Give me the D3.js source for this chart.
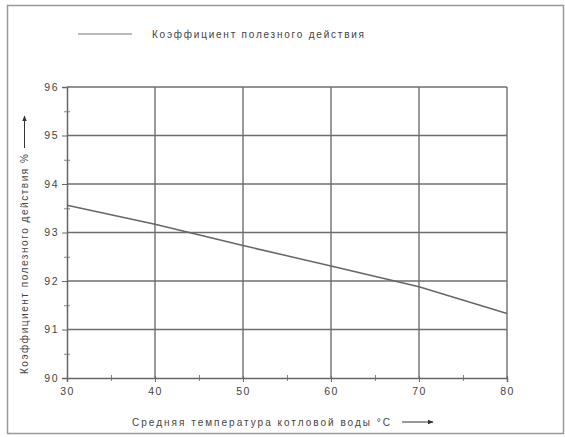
<!DOCTYPE html>
<html>
<head>
<meta charset="utf-8" />
<script src="https://cdn.jsdelivr.net/npm/d3@7"></script>
<style>
  body { margin: 0; background: #fff; }
  text { font-family: "Liberation Sans", Arial, sans-serif; fill: #444; }
</style>
</head>
<body>
<script>
    // data
    var temps = [30, 40, 50, 60, 70, 80];
    var efficiency = [93.56, 93.17, 92.73, 92.31, 91.88, 91.33];
    var xTicks = [30, 40, 50, 60, 70, 80];
    var yTicks = [90, 91, 92, 93, 94, 95, 96];
    var seriesName = "Коэффициент полезного действия";
    var xTitle = "Средняя температура котловой воды °C";
    var yTitle = "Коэффициент полезного действия %";

    var svgWidth = 565, svgHeight = 437;
    var margin = {top: 87, right: 58, bottom: 59, left: 67},
        width = svgWidth - margin.left - margin.right,
        height = svgHeight - margin.top - margin.bottom;

    var svg = d3.select("body").append("svg")
        .attr("width", svgWidth)
        .attr("height", svgHeight);

    // outer frame
    svg.append("rect")
        .attr("x", 7.5).attr("y", 5.5)
        .attr("width", 556).attr("height", 428)
        .attr("fill", "none").attr("stroke", "#999").attr("stroke-width", 1.5);

    var g = svg.append("g").attr("transform", "translate(" + margin.left + "," + margin.top + ")");

    var x = d3.scaleLinear().domain([30, 80]).range([0, width]);
    var y = d3.scaleLinear().domain([90, 96]).range([height, 0]);

    // grid
    g.selectAll(".vgrid").data(xTicks.slice(1)).enter().append("line")
        .attr("x1", function(d) { return x(d); }).attr("x2", function(d) { return x(d); })
        .attr("y1", 0).attr("y2", height)
        .attr("stroke", "#6e6e6e").attr("stroke-width", 1.4);
    g.selectAll(".hgrid").data(yTicks.slice(1)).enter().append("line")
        .attr("x1", 0).attr("x2", width)
        .attr("y1", function(d) { return y(d); }).attr("y2", function(d) { return y(d); })
        .attr("stroke", "#6e6e6e").attr("stroke-width", 1.4);

    // minor ticks
    var xMinor = d3.range(35, 80, 10);
    var yMinor = d3.range(90.5, 96, 1);
    g.append("g").attr("transform", "translate(0," + height + ")")
        .call(d3.axisBottom(x).tickValues(xMinor).tickSize(3).tickFormat(""))
        .call(function(a) { a.select(".domain").remove(); a.selectAll("line").attr("stroke", "#888").attr("y1", -3); });
    g.append("g")
        .call(d3.axisLeft(y).tickValues(yMinor).tickSize(3).tickFormat(""))
        .call(function(a) { a.select(".domain").remove(); a.selectAll("line").attr("stroke", "#888").attr("x1", 3); });

    var xAxis = g.append("g").attr("transform", "translate(0," + height + ")")
        .call(d3.axisBottom(x).tickValues(xTicks).tickSize(4).tickPadding(6).tickFormat(d3.format("d")));
    xAxis.select(".domain").attr("stroke", "#666").attr("stroke-width", 1.5);
    xAxis.selectAll("line").attr("stroke", "#666").attr("y1", -2);
    xAxis.selectAll("text").attr("font-size", 10.5).attr("letter-spacing", 1.5).style("fill", "#444");

    var yAxis = g.append("g")
        .call(d3.axisLeft(y).tickValues(yTicks).tickSize(5).tickPadding(3).tickFormat(d3.format("d")));
    yAxis.select(".domain").attr("stroke", "#666").attr("stroke-width", 1.5);
    yAxis.selectAll("line").attr("stroke", "#666");
    yAxis.selectAll("text").attr("font-size", 10.5).attr("letter-spacing", 1.5).style("fill", "#444");

    // efficiency line
    var line = d3.line()
        .x(function(d, i) { return x(temps[i]); })
        .y(function(d) { return y(d); });
    g.append("path").datum(efficiency)
        .attr("d", line)
        .attr("fill", "none").attr("stroke", "#666").attr("stroke-width", 1.5);

    // legend
    svg.append("line").attr("x1", 78).attr("x2", 132).attr("y1", 34).attr("y2", 34)
        .attr("stroke", "#777").attr("stroke-width", 1.2);
    svg.append("text").attr("x", 152).attr("y", 38).attr("font-size", 10)
        .attr("textLength", 212).attr("lengthAdjust", "spacing").text(seriesName);

    // arrow marker
    svg.append("defs").append("marker")
        .attr("id", "arr").attr("viewBox", "0 0 10 10").attr("refX", 9).attr("refY", 5)
        .attr("markerWidth", 6).attr("markerHeight", 6).attr("orient", "auto")
        .append("path").attr("d", "M0,1 L10,5 L0,9 Z").attr("fill", "#333");

    // x title
    svg.append("text").attr("x", 132).attr("y", 426).attr("font-size", 10)
        .attr("textLength", 258).attr("lengthAdjust", "spacing").text(xTitle);
    svg.append("line").attr("x1", 402).attr("x2", 433)
        .attr("y1", 422).attr("y2", 422)
        .attr("stroke", "#333").attr("stroke-width", 1).attr("marker-end", "url(#arr)");

    // y title
    svg.append("text").attr("transform", "translate(28,374) rotate(-90)")
        .attr("font-size", 10).attr("textLength", 220).attr("lengthAdjust", "spacing").text(yTitle);
    svg.append("line").attr("x1", 24.5).attr("x2", 24.5)
        .attr("y1", 148).attr("y2", 116)
        .attr("stroke", "#333").attr("stroke-width", 1).attr("marker-end", "url(#arr)");
</script>
</body>
</html>
